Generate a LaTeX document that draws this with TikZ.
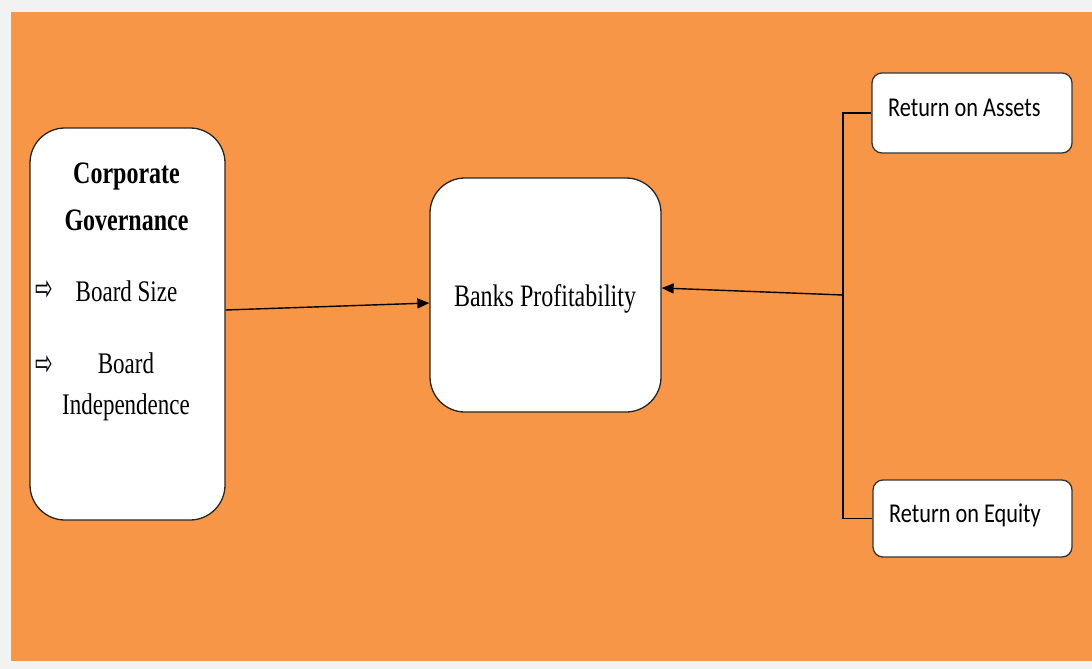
\documentclass[tikz,border=0pt]{standalone}
\usepackage{fontspec}
\setmainfont{Liberation Serif}
\newfontfamily\calfont{Carlito}
\newfontfamily\dvfont{DejaVu Sans}
\usetikzlibrary{arrows.meta}
\definecolor{bgorange}{HTML}{F79646}
\definecolor{bggrey}{HTML}{F2F2F2}
\newcommand{\tallt}[1]{\scalebox{1}[1.3]{#1}}
\newcommand{\talls}[1]{\scalebox{1}[1.22]{#1}}
\tikzset{
  bigbox/.style={draw=black!85, line width=1.3pt, fill=white, rounded corners=35pt, inner sep=0pt},
  smallbox/.style={draw=black!80, line width=1.3pt, fill=white, rounded corners=10pt, inner sep=0pt},
  sertext/.style={font=\fontsize{24}{28}\selectfont, inner sep=0pt},
  santext/.style={font=\calfont\fontsize{22.3}{26}\selectfont, inner sep=0pt, anchor=west},
  arrtext/.style={font=\dvfont\fontsize{21}{22}\selectfont, inner sep=0pt},
  conn/.style={line width=1.4pt, black},
  tip/.style={-{Triangle[length=12pt,width=10pt]}}
}
\begin{document}
\begin{tikzpicture}[x=1pt,y=-1pt]
\useasboundingbox (0,0) rectangle (1092,669);
\fill[bggrey] (0,0) rectangle (1092,669);
\fill[bgorange] (11,12) rectangle (1092,661);
% boxes
\node[bigbox, minimum width=195pt, minimum height=392pt] (cg) at (127.5,324) {};
\node[bigbox, minimum width=231pt, minimum height=234pt] (bp) at (545.5,295) {};
\node[smallbox, minimum width=200pt, minimum height=80pt] (roa) at (972,113) {};
\node[smallbox, minimum width=199pt, minimum height=77pt] (roe) at (972.5,518.5) {};
% texts in corporate governance box
\node[sertext] (t1) at (126.5,176) {\tallt{\bfseries Corporate}};
\node[sertext] (t2) at (126.5,220) {\tallt{\bfseries Governance}};
\node[arrtext] (a1) at (44,290) {\scalebox{1}[1.7]{⇨}};
\node[sertext] (t3) at (126.5,291) {\tallt{\fontsize{23}{28}\selectfont Board Size}};
\node[arrtext] (a2) at (44,365) {\scalebox{1}[1.7]{⇨}};
\node[sertext] (t4) at (126,363) {\tallt{\fontsize{23}{28}\selectfont Board}};
\node[sertext] (t5) at (126,407) {\tallt{\fontsize{23}{28}\selectfont Independence}};
% banks profitability
\node[sertext] (t6) at (545,299) {\tallt{Banks Profitability}};
% right texts
\node[santext] (t7) at (888,108) {\talls{Return on Assets}};
\node[santext] (t8) at (889,515) {\talls{Return on Equity}};
% connectors
\coordinate (br) at (843,295);
\draw[conn] (roa.west) -| (br) |- (roe.west);
\draw[conn, tip] (br) -- ([yshift=7pt]bp.east);
\draw[conn, tip] ([yshift=14pt]cg.east) -- ([yshift=-8pt]bp.west);
\end{tikzpicture}
\end{document}
